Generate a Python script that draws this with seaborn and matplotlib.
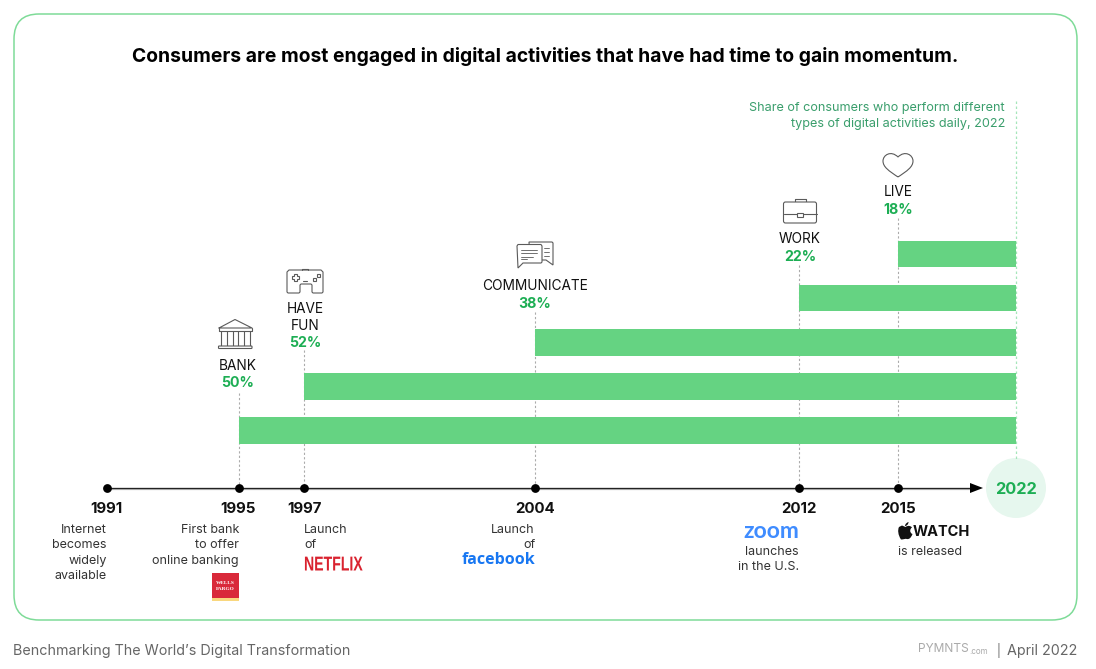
import numpy as np
import pandas as pd
import matplotlib
matplotlib.use("Agg")
import matplotlib.pyplot as plt
from matplotlib.patches import FancyBboxPatch, Circle, Rectangle, Polygon, PathPatch
from matplotlib.path import Path
from matplotlib.patheffects import AbstractPathEffect
from matplotlib.transforms import blended_transform_factory, Affine2D
import seaborn as sns

# ---- data ----
activities = ["LIVE", "WORK", "COMMUNICATE", "HAVE FUN", "BANK"]
shares = [18, 22, 38, 52, 50]
start_years = [2015, 2012, 2004, 1997, 1995]
end_year = 2022
timeline_years = [1991, 1995, 1997, 2004, 2012, 2015]
title = "Consumers are most engaged in digital activities that have had time to gain momentum."
subtitle = ["Share of consumers who perform different", "types of digital activities daily, 2022"]

sns.set_theme(style="white")
FONT = ["Inter", "DejaVu Sans"]
plt.rcParams["font.family"] = FONT

W, H = 1096, 669
GREEN = "#65D382"
TGREEN = "#1DAE54"
fig = plt.figure(figsize=(W / 100, H / 100), dpi=100, facecolor="white")

# Pixel-space layer for frame, icons and logos
deco = fig.add_axes([0, 0, 1, 1], zorder=1)
deco.set_xlim(0, W); deco.set_ylim(H, 0); deco.axis("off")

# Data layer
ax = fig.add_axes([0, 0, 1, 1], zorder=2)
ax.patch.set_alpha(0)
df = pd.DataFrame({"activity": activities, "start": start_years})
df["span"] = end_year - df["start"]
sns.barplot(data=df, y="activity", x="span", left=df["start"].to_numpy(), orient="y",
            color=GREEN, saturation=1, width=0.61, ax=ax, errorbar=None, zorder=3, linewidth=0)

BREAK = 2015
RATIO = (118 / 7) / (791 / 24)
def fwd(x):
    x = np.asarray(x, dtype=float)
    return np.where(x <= BREAK, x, BREAK + (x - BREAK) * RATIO)
def inv(x):
    x = np.asarray(x, dtype=float)
    return np.where(x <= BREAK, x, BREAK + (x - BREAK) / RATIO)
ax.set_xscale("function", functions=(fwd, inv))
XLIM = (1991 - 106.6 / (791 / 24), end_year + 80 / (118 / 7))
YLIM = ((H - 254) / 44.05, -254 / 44.05)
ax.set_xlim(*XLIM)
ax.set_ylim(*YLIM)
ax.axis("off")

ypix = blended_transform_factory(ax.transData, deco.transData)

# Timeline
label_tops = [None, 393, 350, 312, 265, 218]
for yr, top in zip(timeline_years, label_tops):
    if top is not None:
        ax.plot([yr, yr], [top, 488], transform=ypix, color="#ababab", lw=0.8,
                ls=(0, (2, 2)), zorder=1)
ax.plot([end_year, end_year], [101, 460], transform=ypix, color="#A6E6BA", lw=0.9,
        ls=(0, (2, 2)), zorder=1)
deco.plot([107, 972], [489, 489], color="#c0c0c0", lw=0.9, zorder=2)
deco.plot([107, 972], [488, 488], color="#222222", lw=0.95, zorder=3)
deco.add_patch(Polygon([[970, 483], [983, 488], [970, 493]], closed=True, color="black", zorder=4, lw=0))
sns.scatterplot(x=timeline_years, y=[488] * len(timeline_years), transform=ypix, ax=ax,
                color="black", s=40, linewidth=0, zorder=5, legend=False)
ax.set_xlim(*XLIM)
ax.set_ylim(*YLIM)
ax.axis("off")

# Frame
deco.add_patch(FancyBboxPatch((14, 14), 1063, 606, boxstyle="round,pad=0,rounding_size=25",
                              fc="white", ec="#7EDB98", lw=1.1, zorder=0))
deco.add_patch(Circle((1016, 488), 30, fc="#E6F7EE", ec="none", zorder=1))

def T(x, y, s, size=9.1, weight="normal", color="#1c1c1c", ha="center", family=None, **kw):
    return deco.text(x, y + 1, s, fontsize=size, fontweight=weight, color=color, ha=ha, va="center",
                     family=family or FONT, zorder=6, **kw)

class Squeeze(AbstractPathEffect):
    """Narrow a text horizontally about a pixel anchor, leaving it real text."""
    def __init__(self, factor, x0_px):
        super().__init__()
        self.factor, self.x0 = factor, x0_px
    def draw_path(self, renderer, gc, tpath, affine, rgbFace=None):
        a = affine + Affine2D().translate(-self.x0, 0).scale(self.factor, 1).translate(self.x0, 0)
        renderer.draw_path(gc, tpath, a, rgbFace)

# Title / subtitle
T(545, 55.5, title, size=13.88, weight="bold", color="black")
T(1005, 107.5, subtitle[0], size=9.1, color="#3A9E6C", ha="right")
T(1005, 123.5, subtitle[1], size=9.1, color="#3A9E6C", ha="right")

# Activity labels
label_pos = {"BANK": [(238, 365)], "HAVE FUN": [(305, 308), (305, 325)], "COMMUNICATE": [(535, 285)],
             "WORK": [(800, 238)], "LIVE": [(898, 191)]}
pct_y = {"BANK": 382, "HAVE FUN": 342, "COMMUNICATE": 303, "WORK": 256, "LIVE": 209}
for name, share in zip(activities, shares):
    parts = name.split(" ") if len(label_pos[name]) > 1 else [name]
    for part, (x, y) in zip(parts, label_pos[name]):
        T(x, y, part, size=9.85, color="#111111")
    T(label_pos[name][0][0], pct_y[name], f"{share}%", size=10.2, weight="bold", color=TGREEN)

# Years
year_x = {1991: 107, 1995: 238, 1997: 304, 2004: 535, 2012: 799, 2015: 898}
for yr in timeline_years:
    T(year_x[yr] - (1 if yr == 1991 else 0), 508, str(yr), size=10.8, weight="bold", color="#111111")
T(1016, 489, "2022", size=11.8, weight="bold", color=TGREEN)

# Milestones
def block(x, ys, lines, ha):
    for y, s in zip(ys, lines):
        T(x, y, s, size=9, ha=ha, color="#333333")
block(106.5, [529, 544, 560, 575], ["Internet", "becomes", "widely", "available"], "right")
block(239, [529, 544, 560], ["First bank", "to offer", "online banking"], "right")
block(304, [529, 544], ["Launch", "of"], "left")
block(535, [529, 544], ["Launch", "of"], "right")
block(799, [551, 566], ["launches", "in the U.S."], "right")
block(898, [551], ["is released"], "left")

# Logos
deco.add_patch(Rectangle((212, 573), 27, 25, fc="#D9293A", ec="none", zorder=5))
deco.add_patch(Rectangle((212, 598), 27, 3, fc="#F9D77E", ec="none", zorder=5))
T(225.5, 582, "WELLS", size=3.9, weight="bold", color="white", family=["Liberation Serif"])
T(225.5, 588, "FARGO", size=3.9, weight="bold", color="white", family=["Liberation Serif"])
nf = T(304, 564, "NETFLIX", size=14.5, weight="bold", color="#D9222F", ha="left",
       family=["Liberation Sans"])
nf.set_path_effects([Squeeze(0.70, 304)])
T(535.5, 558.5, "facebook", size=11.5, weight="bold", color="#1877F2", ha="right", family=["Open Sans"])
T(799.5, 530, "zoom", size=16.5, weight="bold", color="#3F8CFF", ha="right", family=["Lato"])
T(913, 530.5, "WATCH", size=10.5, weight="bold", color="#111111", ha="left")

# Apple glyph
ap = [(905.5, 527), (908, 525), (911, 526), (912, 527.5), (909.5, 529), (909.5, 533), (912.5, 534),
      (911, 538), (909, 539.5), (907, 539), (905, 538.5), (903.5, 539.5), (901, 539.5),
      (898, 535), (897.5, 530), (899, 527), (902, 525.5), (905.5, 527)]
apple = Path(ap, [Path.MOVETO] + [Path.CURVE4] * 15 + [Path.LINETO, Path.LINETO][:2])
deco.add_patch(PathPatch(apple, fc="#111111", ec="none", zorder=6))
leaf = Path([(905, 526), (905, 523.5), (908, 522), (908.5, 522), (908.5, 524.5), (906.5, 526), (905, 526)],
            [Path.MOVETO] + [Path.CURVE4] * 6)
deco.add_patch(PathPatch(leaf, fc="#111111", ec="none", zorder=6))

# Icons
IC = "#5a5a5a"
LW = 0.8
def L(xs, ys, lw=LW):
    deco.plot(xs, ys, color=IC, lw=lw, zorder=6, solid_capstyle="round", solid_joinstyle="round")
def RR(x, y, w, h, r=1.5, fc="white"):
    deco.add_patch(FancyBboxPatch((x, y), w, h, boxstyle=f"round,pad=0,rounding_size={r}",
                                  fc=fc, ec=IC, lw=LW, zorder=6))
# bank
L([219, 235, 252, 219], [328, 319.5, 328, 328])
L([219, 219, 252, 252], [328, 330.5, 330.5, 328])
for cx in (221, 232.5, 244):
    L([cx, cx], [331, 346]); L([cx + 5.5, cx + 5.5], [331, 346])
RR(218.5, 346, 33.5, 2.5, r=0.6)
# gamepad
pad = [(289, 270), (321, 270), (323, 272), (323, 292), (322, 293), (313, 293), (312, 292), (312, 285), (311, 284),
       (301, 284), (300, 285), (300, 292), (299, 293), (288, 293), (287, 292), (287, 272), (289, 270)]
deco.add_patch(Polygon(pad, closed=True, fc="white", ec=IC, lw=LW, zorder=6, joinstyle="round"))
L([302, 302, 308, 308], [270, 269, 269, 270])
plus = [(293.5, 274), (296.5, 274), (296.5, 276), (298.5, 276), (298.5, 279), (296.5, 279), (296.5, 281),
        (293.5, 281), (293.5, 279), (291.5, 279), (291.5, 276), (293.5, 276)]
deco.add_patch(Polygon(plus, closed=True, fc="white", ec=IC, lw=LW, zorder=6))
L([303, 307], [281, 281])
deco.add_patch(Rectangle((312.5, 277.5), 3, 3, fc="white", ec=IC, lw=LW, zorder=6))
deco.add_patch(Rectangle((317, 273.5), 3, 3, fc="white", ec=IC, lw=LW, zorder=6))
# chat bubbles
deco.add_patch(Polygon([(529, 242), (552, 242), (553, 243), (553, 265), (546, 260), (530, 260)],
                       closed=True, fc="white", ec=IC, lw=LW, zorder=6))
deco.add_patch(Polygon([(518, 244.5), (541, 244.5), (542, 246), (542, 262), (541, 263), (523, 263),
                        (518, 268), (517, 246)], closed=True, fc="white", ec=IC, lw=LW, zorder=6))
for y, x1 in [(249.5, 537), (253, 537), (256.5, 533), (259, 527)]:
    L([521, x1], [y, y], lw=0.6)
for y, x1 in [(248, 549), (252, 549), (255.5, 549)]:
    L([544, x1], [y, y], lw=0.6)
# briefcase
L([794.5, 794.5, 805.5, 805.5], [202, 198.5, 198.5, 202])
RR(783.5, 202, 33, 21, r=2)
L([783.5, 797], [214, 214]); L([803, 816.5], [214, 214])
deco.add_patch(Rectangle((797, 215 - 2.5), 6, 4, fc="white", ec=IC, lw=LW, zorder=7))
# heart
h = Path([(898, 177), (889, 171), (883, 167), (883, 161), (883, 155), (891, 150), (898, 157),
          (905, 150), (913, 155), (913, 161), (913, 167), (907, 171), (898, 177)],
         [Path.MOVETO] + [Path.CURVE4] * 12)
deco.add_patch(PathPatch(h, fc="white", ec=IC, lw=LW, zorder=6))

# Footer
T(13, 649.5, "Benchmarking The World\u2019s Digital Transformation", size=10.3, color="#666666", ha="left")
T(1077, 649.5, "April 2022", size=10.3, color="#666666", ha="right")
T(998, 649, "|", size=8.5, color="#666666")
T(918, 648.5, "PYMNTS", size=8.6, color="#aaaaaa", ha="left")
T(969, 650, ".com", size=5.8, color="#aaaaaa", ha="left")

fig.savefig("out.png", dpi=100, facecolor="white")
